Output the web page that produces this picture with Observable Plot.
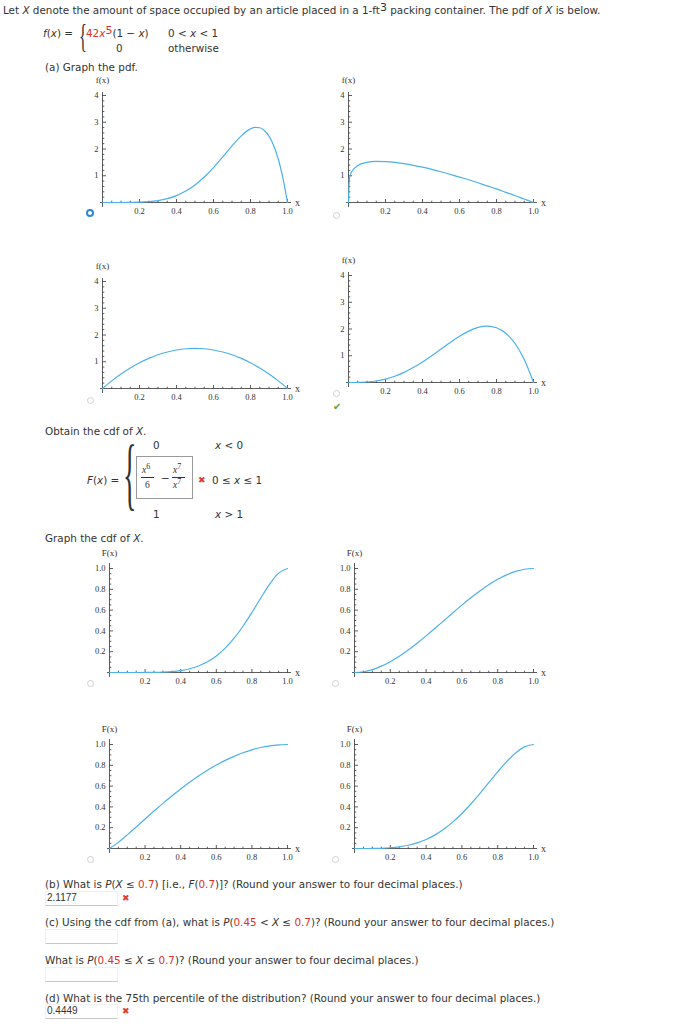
<!DOCTYPE html>
<html>
<head>
<meta charset="utf-8">
<script src="https://cdn.jsdelivr.net/npm/d3@7"></script>
<script src="https://cdn.jsdelivr.net/npm/@observablehq/plot@0.6"></script>
<style>
  html, body { margin:0; padding:0; background:#fff; }
  body { position:relative; width:691px; height:1024px; overflow:hidden;
         font-family: Verdana, "DejaVu Sans", sans-serif; font-size:10.4px; color:#333; }
  .t { position:absolute; white-space:nowrap; line-height:12px; }
  .r { color:#d9312b; }
  .m { font-family:"Liberation Serif", serif; }
  .sup { font-size:11px; line-height:0; vertical-align:3px; }
  .radio { position:absolute; width:7px; height:7px; border-radius:50%; border:1px solid #d0d0d0; background:#fff; box-sizing:border-box; }
  .radio.sel { border:2px solid #2f86d8; width:8px; height:8px; }
  .inp { position:absolute; box-sizing:border-box; border:1px solid #f0f0f0; border-bottom:1px solid #c8c8c8;
         font-family:"Liberation Sans", Arial, sans-serif; font-size:10px; color:#333; padding-left:1px; line-height:12px; }
  .x { position:absolute; color:#e03a2f; font-size:9px; line-height:10px; }
  .plotbox { position:absolute; }
  .plotbox svg { max-width:none; background:transparent; overflow:visible; }
</style>
</head>
<body>

<div class="t" style="left:3px; top:4px;">Let <i>X</i> denote the amount of space occupied by an article placed in a 1-ft<span class="sup">3</span> packing container. The pdf of <i>X</i> is below.</div>

<div class="t" style="left:43px; top:27px;"><i>f</i>(<i>x</i>) =</div>
<div class="t m" style="left:79px; top:20px; font-size:33px; line-height:33px; transform:scaleX(0.5); transform-origin:left top;">{</div>
<div class="t" style="left:86px; top:27px;"><span class="r">42<i>x</i><span class="sup">5</span></span>(1 − <i>x</i>)</div>
<div class="t" style="left:116px; top:42px;">0</div>
<div class="t" style="left:168px; top:27px;">0 &lt; <i>x</i> &lt; 1</div>
<div class="t" style="left:168px; top:42px;">otherwise</div>

<div class="t" style="left:45px; top:61px;">(a) Graph the pdf.</div>

<div class="t" style="left:45px; top:425px;">Obtain the cdf of <i>X</i>.</div>
<div class="t" style="left:153px; top:439px;">0</div>
<div class="t" style="left:215px; top:439px;"><i>x</i> &lt; 0</div>
<div class="t" style="left:87px; top:474px;"><i>F</i>(<i>x</i>) =</div>
<div class="t m" style="left:123px; top:448px; font-size:80px; line-height:50px; transform:scaleX(0.35); transform-origin:left top;">{</div>
<div style="position:absolute; left:136px; top:456px; width:57px; height:43px; border:1px solid #9a9a9a; box-sizing:border-box;"></div>
<div class="t m" style="left:142px; top:464px; font-size:9.5px;"><i>x</i><sup style="font-size:8px; line-height:0;">6</sup></div>
<div style="position:absolute; left:141px; top:477px; width:13px; border-top:1px solid #333;"></div>
<div class="t m" style="left:145px; top:479px; font-size:9.5px;">6</div>
<div class="t" style="left:161px; top:472px;">−</div>
<div class="t m" style="left:173px; top:464px; font-size:9.5px;"><i>x</i><sup style="font-size:8px; line-height:0;">7</sup></div>
<div style="position:absolute; left:172px; top:477px; width:13px; border-top:1px solid #333;"></div>
<div class="t m" style="left:173px; top:479px; font-size:9.5px;"><i>x</i><sup style="font-size:8px; line-height:0;">7</sup></div>
<div class="x" style="left:198px; top:475px;">✖</div>
<div class="t" style="left:212px; top:474px;">0 ≤ <i>x</i> ≤ 1</div>
<div class="t" style="left:153px; top:508px;">1</div>
<div class="t" style="left:215px; top:508px;"><i>x</i> &gt; 1</div>

<div class="t" style="left:45px; top:532px;">Graph the cdf of <i>X</i>.</div>

<div class="t" style="left:45px; top:878px;">(b) What is <i>P</i>(<i>X</i> ≤ <span class="r">0.7</span>) [i.e., <i>F</i>(<span class="r">0.7</span>)]? (Round your answer to four decimal places.)</div>
<div class="inp" style="left:45px; top:891px; width:73px; height:15px;">2.1177</div>
<div class="x" style="left:122px; top:893px;">✖</div>

<div class="t" style="left:45px; top:916px;">(c) Using the cdf from (a), what is <i>P</i>(<span class="r">0.45</span> &lt; <i>X</i> ≤ <span class="r">0.7</span>)? (Round your answer to four decimal places.)</div>
<div class="inp" style="left:45px; top:929px; width:73px; height:15px;"></div>

<div class="t" style="left:45px; top:954px;">What is <i>P</i>(<span class="r">0.45</span> ≤ <i>X</i> ≤ <span class="r">0.7</span>)? (Round your answer to four decimal places.)</div>
<div class="inp" style="left:45px; top:967px; width:73px; height:15px;"></div>

<div class="t" style="left:45px; top:992px;">(d) What is the 75th percentile of the distribution? (Round your answer to four decimal places.)</div>
<div class="inp" style="left:45px; top:1004px; width:73px; height:15px;">0.4449</div>
<div class="x" style="left:122px; top:1006px;">✖</div>

<div class="radio sel" style="left:86px; top:209px;"></div>
<div class="radio" style="left:333px; top:212px;"></div>
<div class="radio" style="left:87px; top:397px;"></div>
<div class="radio" style="left:333px; top:390px;"></div>
<div class="t" style="left:333px; top:401px; color:#5aa040; font-size:10px;">✔</div>
<div class="radio" style="left:87px; top:680px;"></div>
<div class="radio" style="left:332px; top:680px;"></div>
<div class="radio" style="left:87px; top:856px;"></div>
<div class="radio" style="left:332px; top:856px;"></div>

<script>
// ---------- data ----------
const xGrid = [0,0.05,0.1,0.15,0.2,0.25,0.3,0.35,0.4,0.45,0.5,0.55,0.6,0.65,0.7,0.75,0.8,0.85,0.9,0.95,1];

// pdf choices
const pdfA_x = [0,0.05,0.1,0.15,0.2,0.25,0.3,0.35,0.4,0.45,0.5,0.55,0.6,0.65,0.7,0.75,0.8,0.825,0.85,0.875,0.9,0.925,0.95,0.975,1];
const pdfA_y = [0,0,0.0004,0.003,0.011,0.031,0.071,0.143,0.258,0.426,0.656,0.951,1.306,1.706,2.118,2.492,2.753,2.809,2.795,2.693,2.480,2.133,1.625,0.925,0];

const pdfB_x = [0,0.005,0.01,0.02,0.05,0.1,0.15,0.2,0.25,0.3,0.35,0.4,0.45,0.5,0.55,0.6,0.65,0.7,0.75,0.8,0.85,0.9,0.95,1];
const pdfB_y = [0,0.91,1.04,1.18,1.38,1.50,1.54,1.53,1.50,1.45,1.39,1.32,1.24,1.15,1.05,0.95,0.85,0.74,0.62,0.51,0.38,0.26,0.13,0];

const pdfC_y = [0,0.285,0.54,0.765,0.96,1.125,1.26,1.365,1.44,1.485,1.5,1.485,1.44,1.365,1.26,1.125,0.96,0.765,0.54,0.285,0];
const pdfD_y = [0,0.002,0.018,0.057,0.128,0.234,0.378,0.557,0.768,1.002,1.25,1.497,1.728,1.922,2.058,2.109,2.048,1.842,1.458,0.857,0];

// cdf choices
const cdfA_y = [0,0,0,0,0.0004,0.0013,0.0038,0.009,0.0188,0.0357,0.0625,0.1024,0.1586,0.2338,0.3294,0.4449,0.5767,0.7166,0.8503,0.9556,1];
const cdfB_y = [0,0.007,0.028,0.061,0.104,0.156,0.216,0.282,0.352,0.425,0.5,0.575,0.648,0.718,0.784,0.844,0.896,0.939,0.972,0.993,1];
const cdfC_y = [0,0.059,0.131,0.207,0.284,0.360,0.434,0.505,0.573,0.637,0.697,0.752,0.802,0.847,0.886,0.921,0.949,0.971,0.987,0.997,1];
const cdfD_y = [0,0,0.0005,0.002,0.007,0.016,0.031,0.054,0.087,0.131,0.188,0.256,0.337,0.428,0.528,0.633,0.737,0.835,0.919,0.977,1];

// tick values / labels
const xMajor = [0.2,0.4,0.6,0.8,1.0];
const xMajorLabels = ["0.2","0.4","0.6","0.8","1.0"];
const xMinor = [0.05,0.1,0.15,0.25,0.3,0.35,0.45,0.5,0.55,0.65,0.7,0.75,0.85,0.9,0.95];
const pdfYMajor = [1,2,3,4];
const pdfYLabels = ["1","2","3","4"];
const pdfYMinor = [0.2,0.4,0.6,0.8,1.2,1.4,1.6,1.8,2.2,2.4,2.6,2.8,3.2,3.4,3.6,3.8];
const cdfYMajor = [0.2,0.4,0.6,0.8,1.0];
const cdfYLabels = ["0.2","0.4","0.6","0.8","1.0"];
const cdfYMinor = [0.05,0.1,0.15,0.25,0.3,0.35,0.45,0.5,0.55,0.65,0.7,0.75,0.85,0.9,0.95];

// ---------- drawing ----------
const curveColor = "#4db0ea";
const axisColor = "#333";
const serif = "Liberation Serif, Times New Roman, serif";

const tickUp = len => ({draw(ctx){ ctx.moveTo(0,0); ctx.lineTo(0,-len); }});
const tickRight = len => ({draw(ctx){ ctx.moveTo(0,0); ctx.lineTo(len,0); }});

function chart(xv, yv, g) {
  const ppuX = g.x1 - g.ax;
  const ppuY = (g.base - g.ytop) / g.yTop;
  const xMin = -2 / ppuX, xMax = 1 + 4 / ppuX;
  const yMin = -5 / ppuY, yMax = g.yTop + g.extra / ppuY;
  const padL = 36, padR = 18, padT = 26, padB = 16;
  const width = padL + padR + (xMax - xMin) * ppuX;
  const height = padT + padB + (yMax - yMin) * ppuY;
  const left = g.ax - 2 - padL;
  const top = g.ytop - g.extra - padT;
  const data = xv.map((x, i) => ({x, y: yv[i]}));
  const yMaj = g.pdf ? pdfYMajor : cdfYMajor;
  const yLab = g.pdf ? pdfYLabels : cdfYLabels;
  const yMin2 = g.pdf ? pdfYMinor : cdfYMinor;

  const svg = Plot.plot({
    width, height,
    marginLeft: padL, marginRight: padR, marginTop: padT, marginBottom: padB,
    x: {domain: [xMin, xMax], axis: null},
    y: {domain: [yMin, yMax], axis: null},
    marks: [
      Plot.ruleY([0], {x1: xMin, x2: xMax, stroke: axisColor, strokeWidth: 0.8}),
      Plot.ruleX([0], {y1: yMin, y2: yMax, stroke: axisColor, strokeWidth: 0.8}),
      Plot.dot(xMinor, {x: d => d, y: 0, symbol: tickUp(1.8), stroke: axisColor, fill: "none", strokeWidth: 0.8}),
      Plot.dot(xMajor, {x: d => d, y: 0, symbol: tickUp(3.5), stroke: axisColor, fill: "none", strokeWidth: 0.8}),
      Plot.dot(yMin2, {x: 0, y: d => d, symbol: tickRight(1.8), stroke: axisColor, fill: "none", strokeWidth: 0.8}),
      Plot.dot(yMaj, {x: 0, y: d => d, symbol: tickRight(3.5), stroke: axisColor, fill: "none", strokeWidth: 0.8}),
      Plot.text(xMajor, {x: d => d, y: 0, text: (d, i) => xMajorLabels[i], dy: 9, fontFamily: serif, fontSize: 8.5, fill: "#333"}),
      Plot.text(yMaj, {x: 0, y: d => d, text: (d, i) => yLab[i], dx: -4, textAnchor: "end", fontFamily: serif, fontSize: 8.5, fill: "#333"}),
      Plot.text([g.label], {x: 0, y: g.yTop, text: d => d, dy: -15, fontFamily: serif, fontSize: 9, fill: "#333"}),
      Plot.text(["x"], {x: 1, y: 0, text: d => d, dx: 10, fontFamily: serif, fontSize: 10, fill: "#333"}),
      Plot.line(data, {x: "x", y: "y", stroke: curveColor, strokeWidth: 1.2, curve: "monotone-x"})
    ]
  });
  const box = document.createElement("div");
  box.className = "plotbox";
  box.style.left = left + "px";
  box.style.top = top + "px";
  box.appendChild(svg);
  document.body.appendChild(box);
}

chart(pdfA_x, pdfA_y, {ax:102, x1:287, base:202, ytop:95, yTop:4, extra:3, pdf:true, label:"f(x)"});
chart(pdfB_x, pdfB_y, {ax:348, x1:533, base:202, ytop:95, yTop:4, extra:3, pdf:true, label:"f(x)"});
chart(xGrid, pdfC_y, {ax:102, x1:287, base:388, ytop:281, yTop:4, extra:3, pdf:true, label:"f(x)"});
chart(xGrid, pdfD_y, {ax:348, x1:533, base:382, ytop:275, yTop:4, extra:3, pdf:true, label:"f(x)"});
chart(xGrid, cdfA_y, {ax:109, x1:287, base:672, ytop:568, yTop:1, extra:5, pdf:false, label:"F(x)"});
chart(xGrid, cdfB_y, {ax:354, x1:533, base:672, ytop:568, yTop:1, extra:5, pdf:false, label:"F(x)"});
chart(xGrid, cdfC_y, {ax:109, x1:287, base:848, ytop:744, yTop:1, extra:5, pdf:false, label:"F(x)"});
chart(xGrid, cdfD_y, {ax:354, x1:533, base:848, ytop:744, yTop:1, extra:5, pdf:false, label:"F(x)"});
</script>
</body>
</html>
